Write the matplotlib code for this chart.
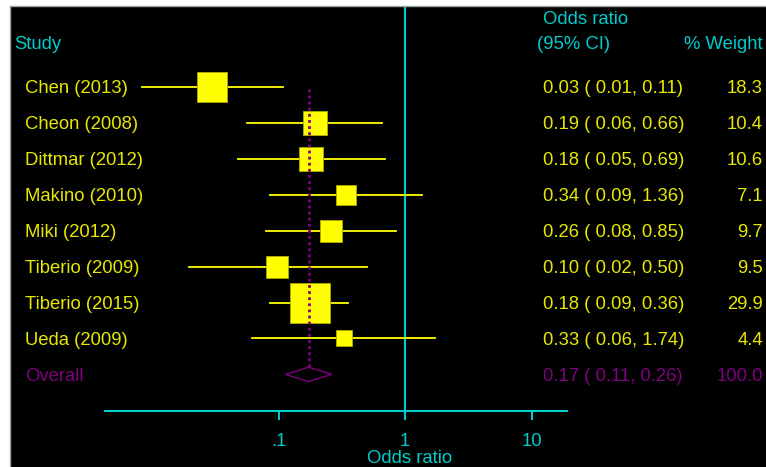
import numpy as np
import matplotlib
matplotlib.use("Agg")
import matplotlib.pyplot as plt
from matplotlib.patches import Polygon
from matplotlib.transforms import blended_transform_factory

plt.rcParams['font.family'] = ['Liberation Sans', 'DejaVu Sans']

studies = ["Chen (2013)", "Cheon (2008)", "Dittmar (2012)", "Makino (2010)",
           "Miki (2012)", "Tiberio (2009)", "Tiberio (2015)", "Ueda (2009)"]
odds = [0.030, 0.193, 0.181, 0.340, 0.259, 0.098, 0.179, 0.328]
ci_lo = [0.0083, 0.056, 0.048, 0.086, 0.080, 0.0195, 0.086, 0.062]
ci_hi = [0.108, 0.657, 0.692, 1.358, 0.846, 0.497, 0.356, 1.736]
weights = [18.3, 10.4, 10.6, 7.1, 9.7, 9.5, 29.9, 4.4]
overall = (0.173, 0.114, 0.263)
overall_weight = 100.0
ticks = [0.1, 1, 10]
tick_labels = [".1", "1", "10"]

W, H = 766, 467
cyan = "#00cccc"
yellow = "#ffff00"
ytext = "#e8e800"
purple = "#800080"

# pixel layout of the reference
pitch = 35.95
row0 = 86.8
x0px, dec = 405.0, 126.5
toff = 1.8 / pitch  # text sits a little lower than the marks


def row(ypx):
    return (ypx - row0) / pitch


def val(xpx):
    return 10 ** ((xpx - x0px) / dec)


fig = plt.figure(figsize=(W / 100, H / 100), dpi=100, facecolor="white")
ax = fig.add_axes([10 / W, 0, (W - 10) / W, (H - 6) / H])
ax.set_facecolor("black")
ax.set_xscale("log")
ax.set_xlim(val(10), val(W))
ax.set_ylim(row(H), row(6))
ax.set_xticks([])
ax.set_yticks([])
ax.minorticks_off()
for s in ["right", "bottom"]:
    ax.spines[s].set_visible(False)
for s in ["top", "left"]:
    ax.spines[s].set_color("#a0a0a0")
    ax.spines[s].set_linewidth(1)

n = len(studies)
ys = np.arange(n)
y_ov = n

# null line
ax.plot([1, 1], [row(8), row(411)], color=cyan, lw=1.5, zorder=2)

# CIs and boxes
for i in range(n):
    ax.plot([ci_lo[i], ci_hi[i]], [ys[i], ys[i]], color=yellow, lw=1.3, zorder=3)
    side = 30.7 * np.sqrt(weights[i] / weights[0])
    ax.plot(odds[i], ys[i], marker="s", ms=side * 0.72, color=yellow,
            mec="#b0b000", mew=0.6, zorder=4)

# overall diamond and dotted line
o, lo, hi = overall
dh = 7.2 / pitch
ax.add_patch(Polygon([(lo, y_ov), (o, y_ov - dh), (hi, y_ov), (o, y_ov + dh)],
                     closed=True, fill=False, ec=purple, lw=1.0, zorder=5))
ax.plot([o, o], [row(89), y_ov - dh], color=purple, lw=2.0, ls=(0, (1.0, 1.2)), zorder=6)

# x axis
ya = row(411)
fs = 13.3
ax.plot([val(105), val(567)], [ya, ya], color=cyan, lw=1.5, zorder=2)
for t, lab in zip(ticks, tick_labels):
    ax.plot([t, t], [ya, row(419)], color=cyan, lw=1.5, zorder=2)
    ax.text(t, row(441.5), lab, color=cyan, fontsize=fs, ha="center", va="center")
ax.text(val(409.5), row(458.5), "Odds ratio", color=cyan, fontsize=fs, ha="center", va="center")

# text columns
tr = blended_transform_factory(fig.transFigure, ax.transData)
ax.text(14 / W, row(45), "Study", color=cyan, fontsize=fs, va="center", transform=tr)
ax.text(543 / W, row(20), "Odds ratio", color=cyan, fontsize=fs, va="center", transform=tr)
ax.text(537 / W, row(45), "(95% CI)", color=cyan, fontsize=fs, va="center", transform=tr)
ax.text(763 / W, row(45), "% Weight", color=cyan, fontsize=fs, va="center", ha="right", transform=tr)

for i in range(n):
    yt = ys[i] + toff
    ax.text(25 / W, yt, studies[i], color=ytext, fontsize=fs, va="center", transform=tr)
    ax.text(543 / W, yt, f"{odds[i]:.2f} ( {ci_lo[i]:.2f}, {ci_hi[i]:.2f})",
            color=ytext, fontsize=fs, va="center", transform=tr)
    ax.text(763 / W, yt, f"{weights[i]:.1f}", color=ytext, fontsize=fs,
            va="center", ha="right", transform=tr)

yt = y_ov + toff
ax.text(25 / W, yt, "Overall", color=purple, fontsize=fs, va="center", transform=tr)
ax.text(543 / W, yt, f"{o:.2f} ( {lo:.2f}, {hi:.2f})", color=purple, fontsize=fs,
        va="center", transform=tr)
ax.text(763 / W, yt, f"{overall_weight:.1f}", color=purple, fontsize=fs,
        va="center", ha="right", transform=tr)

fig.savefig("out.png", dpi=100, facecolor="white")
